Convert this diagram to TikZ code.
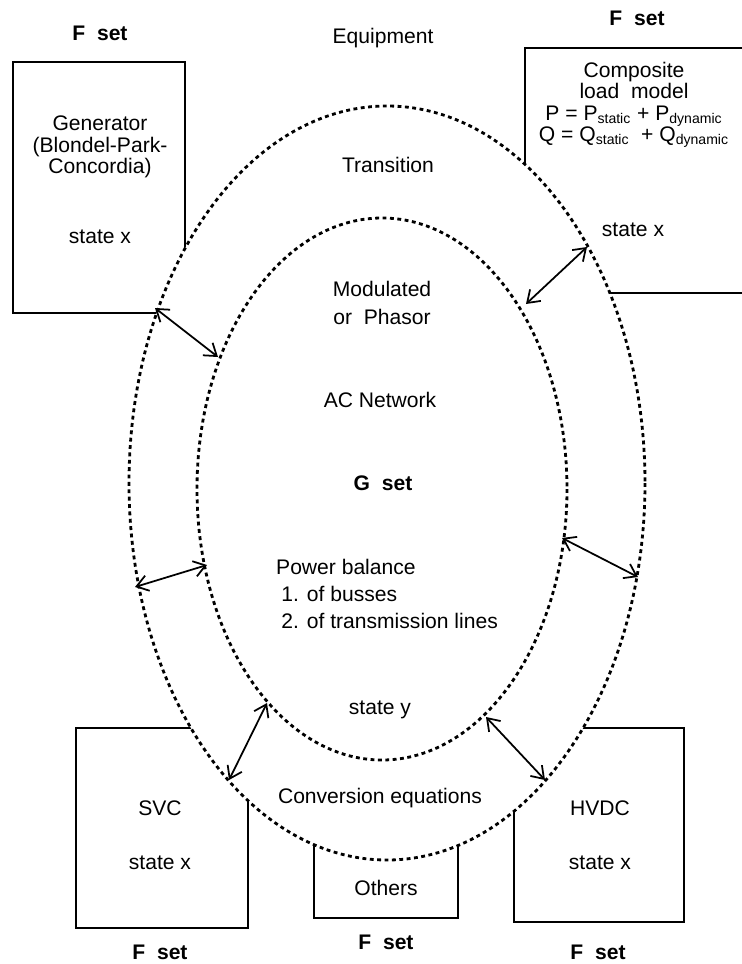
\documentclass[tikz,border=0pt]{standalone}
\usepackage{fontspec}
\setmainfont{Liberation Sans}
\usetikzlibrary{arrows.meta}
\tikzset{>={Straight Barb[length=6.5pt,width=9pt]}}
\tikzset{
  ring/.style={line width=1.6pt, dash pattern=on 2.2pt off 2pt},
  block/.style={line width=1.4pt},
  link/.style={<->, line width=1pt},
  every node/.style={font=\fontsize{12}{13}\selectfont, align=center},
  tight/.style={font=\fontsize{12}{12.2}\selectfont},
  loose/.style={font=\fontsize{12}{15.5}\selectfont},
  fset/.style={font=\fontsize{12}{13}\selectfont\bfseries}
}

\begin{document}
\begin{tikzpicture}[x=0.02cm, y=-0.02cm]
  \useasboundingbox (0,0) rectangle (742,964);
  % equipment blocks
  \draw[block] (13,62) rectangle (185,313);
  \draw[block] (525,48) rectangle (790,293);
  \draw[block] (76,728) rectangle (248,928);
  \draw[block] (314,840) rectangle (458,918);
  \draw[block] (514,728) rectangle (684,922);
  % transition ring, network inside
  \draw[ring, fill=white] (387,483) ellipse [x radius=258, y radius=377];
  \draw[ring] (382,489) ellipse [x radius=185, y radius=271];

  \coordinate (gen-o) at (155,308);   \coordinate (gen-i) at (218,357);
  \coordinate (load-o) at (587,247);  \coordinate (load-i) at (526,304);
  \coordinate (left-o) at (135,587);  \coordinate (left-i) at (207,565);
  \coordinate (right-o) at (638,577); \coordinate (right-i) at (562,538);
  \coordinate (svc-o) at (229,780);   \coordinate (svc-i) at (267,703);
  \coordinate (hvdc-o) at (545,780);  \coordinate (hvdc-i) at (486,717);

  \draw[link] (gen-o) -- (gen-i);
  \draw[link] (load-o) -- (load-i);
  \draw[link] (left-o) -- (left-i);
  \draw[link] (right-i) -- (right-o);
  \draw[link] (svc-o) -- (svc-i);
  \draw[link] (hvdc-i) -- (hvdc-o);

  % labels
  \node[fset] (fgen) at (100,33) {F\ \ set};
  \node[fset] (fload) at (637,18) {F\ \ set};
  \node (equip) at (383,38) {Equipment};
  \node (trans) at (388,165) {Transition};
  \node[tight] (gen) at (100,147) {Generator\\(Blondel-Park-\\Concordia)};
  \node (genx) at (100,237) {state x};
  \node[tight] (load) at (634,105) {Composite\\load\ \ model\\
    P = P\textsubscript{static} + P\textsubscript{dynamic}\\
    Q = Q\textsubscript{static} \ + Q\textsubscript{dynamic}};
  \node (loadx) at (633,230) {state x};
  \node[loose] (mod) at (382,303) {Modulated\\or\ \ Phasor};
  \node (acnet) at (380,400) {AC Network};
  \node[fset] (gset) at (383,483) {G\ \ set};
  \node[loose, align=left, anchor=west] (bal) at (270,594)
    {Power balance\\\hspace*{3pt}1. of busses\\\hspace*{3pt}2. of transmission lines};
  \node (sty) at (380,710) {state y};
  \node (conv) at (380,798) {Conversion equations};
  \node (svc) at (160,808) {SVC};
  \node (svcx) at (160,863) {state x};
  \node (oth) at (386,888) {Others};
  \node (hvdc) at (600,808) {HVDC};
  \node (hvdcx) at (600,863) {state x};
  \node[fset] (fsvc) at (160,952) {F\ \ set};
  \node[fset] (foth) at (386,942) {F\ \ set};
  \node[fset] (fhvdc) at (598,952) {F\ \ set};
\end{tikzpicture}
\end{document}
